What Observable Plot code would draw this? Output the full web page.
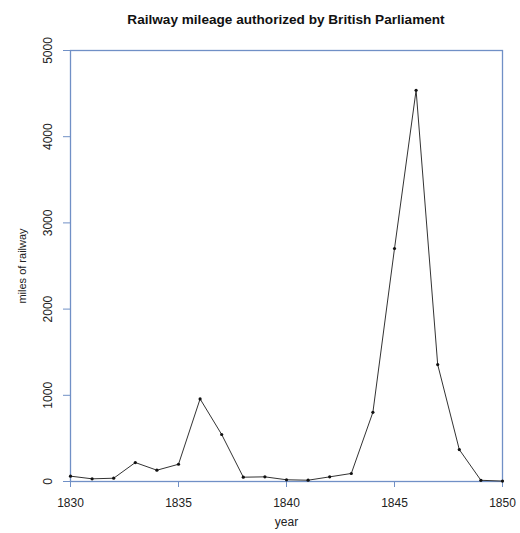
<!DOCTYPE html>
<html>
<head>
<meta charset="utf-8">
<script src="https://cdn.jsdelivr.net/npm/d3@7"></script>
<script src="https://cdn.jsdelivr.net/npm/@observablehq/plot@0.6"></script>
<style>
  html, body { margin: 0; padding: 0; background: #fff; overflow: hidden; }
  #wrap { position: relative; width: 520px; height: 533px; }
  #title { position: absolute; left: 70px; width: 432px; top: 12px; text-align: center;
           font: bold 13.6px "Liberation Sans", Arial, sans-serif; color: #111; }
  svg { font-family: "Liberation Sans", Arial, sans-serif; }
</style>
</head>
<body>
<div id="wrap"><div id="title"></div></div>
<script>
const years = [1830,1831,1832,1833,1834,1835,1836,1837,1838,1839,1840,1841,1842,1843,1844,1845,1846,1847,1848,1849,1850];
const miles = [62,31,38,220,131,200,958,545,50,54,20,15,54,93,803,2703,4539,1356,370,14,5];
const xTicks = [1830,1835,1840,1845,1850];
const yTicks = [0,1000,2000,3000,4000,5000];
const title = "Railway mileage authorized by British Parliament";
const xLabel = "year";
const yLabel = "miles of railway";

const data = years.map((y, i) => ({year: y, miles: miles[i]}));
const frameColor = "#7090c6";

document.getElementById("title").textContent = title;

const chart = Plot.plot({
  width: 520,
  height: 533,
  marginLeft: 70,
  marginRight: 18,
  marginTop: 50,
  marginBottom: 52,
  style: {fontSize: "12px", fontFamily: "'Liberation Sans', Arial, sans-serif", background: "transparent", overflow: "hidden"},
  x: {domain: [1830, 1850]},
  y: {domain: [0, 5000]},
  marks: [
    Plot.frame({stroke: frameColor, strokeWidth: 1.3}),
    Plot.axisX({ticks: xTicks, tickFormat: d => String(d), tickSize: 6, tickPadding: 11, stroke: frameColor, fill: "#222",
      label: null}),
    Plot.text([xLabel], {frameAnchor: "bottom", dy: 36, lineAnchor: "top", textAnchor: "middle", fontSize: 12, fill: "#222"}),
    Plot.axisY({ticks: yTicks, tickSize: 7, tickFormat: () => "", stroke: frameColor, label: null}),
    Plot.text(yTicks, {y: d => d, text: d => String(d), frameAnchor: "left", dx: -22, rotate: -90, textAnchor: "middle", lineAnchor: "middle", fontSize: 12, fill: "#222"}),
    Plot.text([yLabel], {frameAnchor: "left", dx: -48, rotate: -90, textAnchor: "middle", fontSize: 11, fill: "#222"}),
    Plot.line(data, {x: "year", y: "miles", stroke: "#333", strokeWidth: 1}),
    Plot.dot(data, {x: "year", y: "miles", r: 1.6, fill: "#111", stroke: "none"})
  ]
});
document.getElementById("wrap").appendChild(chart);
</script>
</body>
</html>
